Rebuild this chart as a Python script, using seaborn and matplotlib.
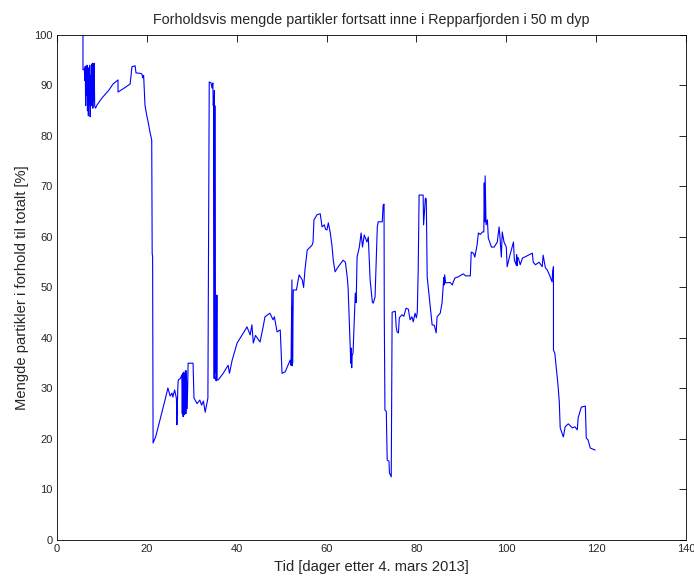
import pandas as pd
import matplotlib
matplotlib.use("Agg")
import matplotlib.pyplot as plt
import seaborn as sns

# Tid (dager) og mengde partikler (%) lest av figuren
tid = [5.8, 5.8, 6.1, 6.2, 6.3, 6.4, 6.5, 6.6, 6.7, 6.8, 6.9, 7.0, 7.1, 7.2, 7.3, 7.4, 7.5, 7.6,
       7.7, 7.8, 7.9, 8.0, 8.1, 8.2, 8.3, 8.4, 8.6, 8.9,
       10.0, 11.5, 12.5, 13.6, 13.6, 15.0, 16.3, 16.7, 17.4, 17.6, 18.5, 18.9, 19.1, 19.3, 19.6, 20.0,
       20.3, 20.7, 21.1, 21.2, 21.3, 21.4,
       22.0, 23.0, 24.0, 24.7, 25.2, 25.6, 25.8, 26.2, 26.6, 26.7, 26.9, 27.0, 27.5, 27.8, 27.9, 28.0,
       28.1, 28.2, 28.3, 28.4, 28.5, 28.6, 28.7, 28.8, 29.0, 29.2, 30.3, 30.5, 31.2, 31.8, 32.2, 32.6,
       33.0, 33.6, 33.9, 34.3, 34.5, 34.7, 34.8, 34.9, 35.0, 35.05, 35.1, 35.15, 35.2, 35.3, 35.5,
       35.6, 35.65, 35.7,
       35.9, 37.0, 38.1, 38.4, 39.0, 40.1, 40.8, 41.5, 42.3, 43.0, 43.4, 43.7, 44.2, 45.2, 45.9, 46.3,
       47.4, 48.1, 48.4, 49.0, 49.7, 50.1, 50.8, 51.9, 52.1, 52.3, 52.35, 52.4, 52.45, 52.5, 52.6,
       53.3, 53.9, 54.6,
       54.9, 55.2, 55.7, 56.8, 57.0, 57.2, 57.9, 58.6, 59.0, 59.5, 59.8, 60.1, 60.4, 60.8, 61.2, 61.5,
       61.9, 62.6, 63.7, 64.2, 64.6, 64.8, 65.3, 65.4, 65.5, 65.6, 65.7, 65.9, 66.4, 66.6, 66.8, 67.3,
       67.7, 68.0, 68.4, 69.0, 69.3, 69.7, 70.2, 70.4, 70.8, 71.3, 71.5, 72.4, 72.6, 72.8, 72.85,
       73.0, 73.3, 73.5, 73.9, 74.0, 74.4, 74.6, 75.3, 75.5, 75.7, 76.0, 76.2, 76.8, 77.2, 77.7, 78.2,
       78.6, 79.0, 79.3, 79.7, 80.0, 80.2, 80.4, 80.6, 81.5, 81.6, 82.0, 82.2, 82.4, 83.1, 83.5, 84.0,
       84.4, 84.6, 85.3, 85.7, 86.0, 86.1, 86.2, 86.3, 86.5, 87.5, 88.0, 88.2, 88.6, 89.3, 90.4, 91.0,
       92.0, 92.2, 92.7, 93.0, 93.5, 93.8, 94.2, 94.7, 95.0, 95.1, 95.2, 95.3, 95.5, 95.8, 96.0, 96.7,
       97.3, 98.0, 98.4, 98.6, 98.9, 99.1, 99.5, 100.0, 100.2, 100.7, 101.6, 101.8, 102.2, 102.3,
       102.4, 102.5, 102.7, 103.1, 103.6, 105.8, 106.0, 106.5, 107.3, 108.0, 108.2, 108.7, 109.1,
       109.6, 110.2, 110.3, 110.5, 110.5, 110.8, 111.4, 111.6, 111.8, 112.0, 112.7, 113.1, 113.8,
       114.7, 115.3, 115.8, 116.0, 116.7, 117.6, 117.8, 118.2, 118.7, 119.8]

mengde = [100.0, 93.1, 93.3, 91.0, 93.8, 86.0, 93.5, 88.0, 94.0, 85.0, 93.0, 84.0, 93.5, 86.0,
          94.0, 83.8, 92.0, 87.0, 94.2, 86.0, 94.4, 85.5, 94.3, 87.0, 94.4, 86.0, 85.5, 86.1,
          87.5, 89.0, 90.3, 91.1, 88.7, 89.5, 90.3, 93.7, 93.9, 92.5, 92.4, 92.3, 91.5, 92.0, 86.1, 84.0,
          82.8, 80.8, 79.2, 56.8, 56.0, 19.2,
          20.5, 24.0, 27.5, 30.1, 28.5, 29.1, 28.3, 29.7, 28.0, 22.8, 30.0, 31.7, 32.0, 32.7, 25.0, 33.0,
          24.4, 33.2, 24.8, 33.0, 25.5, 33.5, 25.0, 33.5, 26.0, 35.0, 35.0, 28.1, 27.0, 27.7, 26.7, 27.5,
          25.3, 28.1, 90.7, 90.5, 89.5, 90.5, 86.0, 88.0, 32.0, 89.0, 33.0, 86.0, 32.5, 31.7, 31.5,
          48.5, 31.8, 31.7,
          31.7, 33.0, 34.6, 33.0, 35.6, 39.0, 40.0, 41.0, 42.2, 40.6, 42.6, 39.0, 40.5, 39.2, 42.2, 44.2,
          44.9, 43.6, 44.2, 41.2, 41.6, 33.0, 33.3, 35.6, 34.6, 51.5, 34.5, 46.0, 35.0, 40.0, 49.5,
          49.5, 52.5, 51.5,
          50.0, 53.5, 57.4, 58.4, 59.0, 63.4, 64.4, 64.6, 62.0, 62.4, 61.5, 61.4, 62.8, 61.0, 58.4, 55.4,
          53.1, 54.1, 55.4, 55.0, 52.1, 49.9, 37.6, 35.0, 38.0, 34.1, 36.5, 37.0, 48.9, 47.0, 56.0, 58.0,
          60.8, 58.0, 60.4, 59.0, 60.0, 51.5, 47.1, 46.9, 48.1, 62.0, 63.0, 63.0, 66.3, 66.5, 44.9,
          25.7, 25.5, 15.8, 15.6, 13.3, 12.5, 45.1, 45.3, 42.2, 41.2, 41.0, 44.0, 44.6, 44.3, 45.9, 45.7,
          43.6, 44.2, 43.2, 44.9, 44.0, 45.1, 53.5, 68.3, 68.3, 62.4, 67.7, 67.5, 52.1, 46.1, 42.6, 42.5,
          41.0, 44.2, 44.9, 46.9, 50.9, 52.0, 50.5, 52.5, 50.9, 51.0, 50.5, 51.1, 51.9, 52.1, 52.7, 52.3,
          52.3, 57.0, 56.8, 56.0, 58.4, 60.8, 60.5, 61.0, 61.0, 70.7, 63.0, 72.1, 62.4, 63.4, 59.8, 58.0,
          58.0, 59.0, 62.0, 60.0, 56.0, 61.0, 59.0, 58.0, 54.1, 56.0, 59.0, 55.4, 54.5, 56.5,
          54.3, 56.0, 55.8, 54.5, 55.8, 56.8, 55.0, 54.5, 55.0, 54.1, 56.4, 53.9, 53.5,
          52.5, 51.1, 53.0, 54.1, 37.6, 37.0, 31.7, 29.7, 27.3, 22.2, 20.4, 22.4, 23.0,
          22.2, 22.4, 21.8, 24.2, 26.3, 26.5, 20.2, 19.8, 18.2, 17.8]

df = pd.DataFrame({"tid": tid, "mengde": mengde})

sns.set_style("white")
plt.rcParams["font.family"] = ["Liberation Sans", "DejaVu Sans"]
plt.rcParams["xtick.direction"] = "in"
plt.rcParams["ytick.direction"] = "in"

fig = plt.figure(figsize=(6.94, 5.79), dpi=100)
ax = fig.add_axes([0.082, 0.0674, 0.9065, 0.8722])

sns.lineplot(data=df, x="tid", y="mengde", sort=False, estimator=None,
             color="#0000ff", linewidth=0.8, ax=ax)

ax.set_xlim(0, 140)
ax.set_ylim(0, 100)
ax.set_xticks(range(0, 141, 20))
ax.set_yticks(range(0, 101, 10))
ax.tick_params(axis="both", which="both", labelsize=8, length=5, width=0.6,
               top=True, right=True, color="black", pad=3)
for s in ax.spines.values():
    s.set_visible(True)
    s.set_color("black")
    s.set_linewidth(0.6)

ax.set_title("Forholdsvis mengde partikler fortsatt inne i Repparfjorden i 50 m dyp",
             fontsize=10.3, pad=8)
ax.set_xlabel("Tid [dager etter 4. mars 2013]", fontsize=10.6)
ax.set_ylabel("Mengde partikler i forhold til totalt [%]", fontsize=10.6)

fig.savefig("out.png", dpi=100, facecolor="white")
